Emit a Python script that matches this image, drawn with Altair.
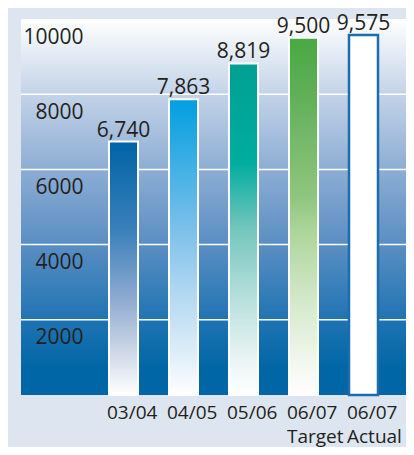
import altair as alt
import pandas as pd

categories = ["03/04", "04/05", "05/06", "06/07 Target", "06/07 Actual"]
values = [6740, 7863, 8819, 9500, 9575]
grid_values = [2000, 4000, 6000, 8000]
y_ticks = [2000, 4000, 6000, 8000, 10000]

bar_stops = {
    "03/04": [("#0063a5", 0), ("#3a80bb", 0.35), ("#8eaad0", 0.62), ("#d4dcea", 0.85), ("#ffffff", 1)],
    "04/05": [("#009fe0", 0), ("#7cc0ea", 0.44), ("#b5d9f2", 0.67), ("#e0eff9", 0.87), ("#ffffff", 1)],
    "05/06": [("#00a093", 0), ("#00ad9f", 0.3), ("#74c6bd", 0.5), ("#b8e0dc", 0.71), ("#e8f4f3", 0.89), ("#ffffff", 1)],
    "06/07 Target": [("#48a942", 0), ("#62b05a", 0.17), ("#90c67f", 0.45), ("#aad497", 0.53), ("#d2e8c8", 0.73), ("#f0f7ec", 0.9), ("#ffffff", 1)],
}
bg_stops = [("#ffffff", 0), ("#c3d3e8", 0.2), ("#8dadd4", 0.4), ("#5a8ec3", 0.6), ("#1f74b2", 0.8), ("#0066a6", 0.93), ("#0066a6", 1)]


def grad(stops):
    return {"gradient": "linear", "x1": 0, "y1": 0, "x2": 0, "y2": 1,
            "stops": [{"color": c, "offset": o} for c, o in stops]}


W, H = 385, 376
df = pd.DataFrame({"cat": categories, "value": values})
grid_df = pd.DataFrame({"value": grid_values})

xscale = alt.Scale(domain=categories, paddingInner=0.5167, paddingOuter=0.9667, align=0.7586)
yscale = alt.Scale(domain=[0, 10000], nice=False)
xaxis = alt.Axis(title=None, domain=False, ticks=False, tickSize=0, labelAlign="left",
                 labelBaseline="top", labelOffset=-16.5, labelPadding=8, labelAngle=0,
                 labelLineHeight=24, labelFontSize=19, labelExpr="split(datum.label, ' ')")
yaxis = alt.Axis(title=None, domain=False, ticks=False, tickSize=0, grid=False, values=y_ticks,
                 format="d", labelAlign="right", labelBaseline="top", labelPadding=-62,
                 labelOffset=7, labelFontSize=21, zindex=1)

X = alt.X("cat:N", scale=xscale, axis=xaxis, sort=categories)
Y = alt.Y("value:Q", scale=yscale, axis=yaxis)

bg = alt.Chart(pd.DataFrame({"a": [0]})).mark_rect(fill=grad(bg_stops)).encode(
    x=alt.value(0), x2=alt.value(W), y=alt.value(0), y2=alt.value(H))

grid = alt.Chart(grid_df).mark_rule(color="white", strokeWidth=1.5).encode(y=Y)

bars = []
for c in categories:
    if c in bar_stops:
        m = alt.Chart(df).transform_filter(alt.datum.cat == c).mark_bar(
            fill=grad(bar_stops[c]), stroke="white", strokeWidth=2)
    else:
        m = alt.Chart(df).transform_filter(alt.datum.cat == c).mark_bar(
            fill="white", stroke="#1b6db0", strokeWidth=2.5)
    bars.append(m.encode(x=X, y=Y))

text = alt.Chart(df).mark_text(dy=-5, baseline="alphabetic", font="Open Sans", fontSize=21,
                               color="#231f20").encode(
    x=X, y=Y, text=alt.Text("value:Q", format=","))

chart = alt.layer(bg, grid, *bars, text).properties(
    width=W, height=H,
    autosize=alt.AutoSizeParams(type="none"),
    padding={"left": 13, "top": 11, "right": 0, "bottom": 52},
    background="#dde5f0",
).configure_view(strokeWidth=0).configure_axis(
    labelFont="Open Sans", labelColor="#231f20")

chart.save("out.html", embed_options={"renderer": "svg", "actions": False})
